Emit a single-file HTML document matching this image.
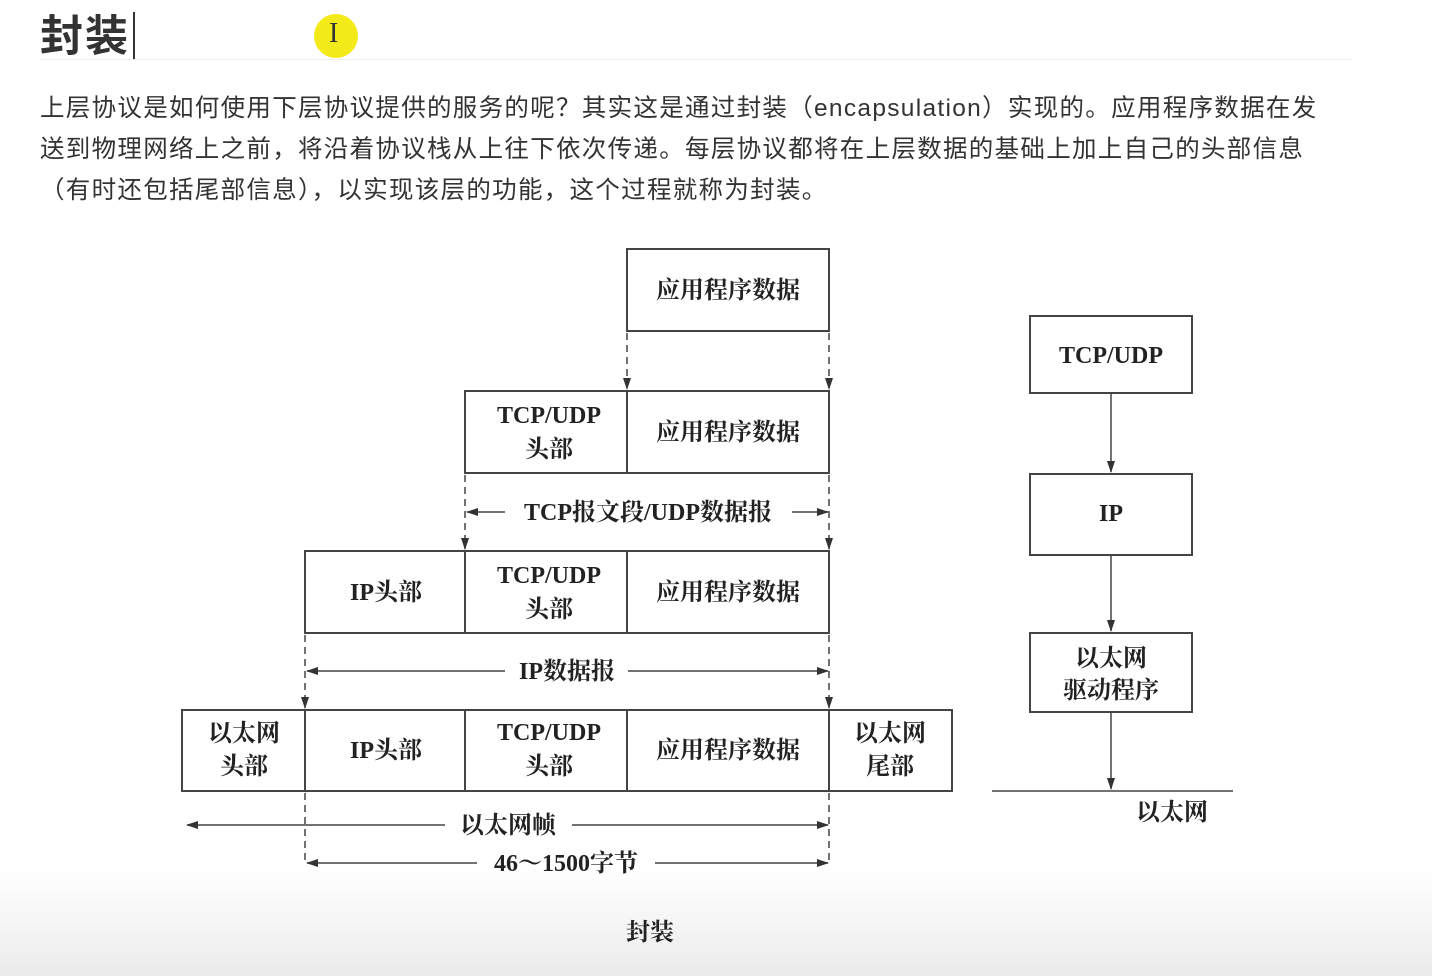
<!DOCTYPE html>
<html><head><meta charset="utf-8"><style>
body{margin:0;width:1432px;height:976px;overflow:hidden;background:linear-gradient(#fff 0,#fff 870px,#ebebeb 976px);font-family:"Liberation Sans","Noto Sans CJK SC",sans-serif;position:relative}
.t{position:absolute;left:40px;top:11px;font-size:43px;font-weight:bold;color:#333;letter-spacing:2px;line-height:52px}
.cur{position:absolute;left:133px;top:12px;width:2px;height:48px;background:#333}
.hl{position:absolute;left:314px;top:14px;width:44px;height:44px;border-radius:50%;background:#f3ea1a}
.hl span{position:absolute;left:15px;top:4px;font-size:28px;color:#333;font-family:"Liberation Serif",serif}
.rule{position:absolute;left:40px;top:59px;width:1312px;height:1px;background:#eee}
.p{position:absolute;left:40px;top:88px;font-size:24.5px;line-height:41px;color:#333;white-space:nowrap;letter-spacing:1.3px}
svg{position:absolute;left:0;top:0}
svg text{font-family:"Liberation Serif","Noto Serif CJK SC",serif;font-size:24px;fill:#222;text-anchor:middle;font-weight:bold}
</style></head><body>
<div class="t">封装</div><div class="cur"></div>
<div class="hl"><span>I</span></div>
<div class="rule"></div>
<div class="p">上层协议是如何使用下层协议提供的服务的呢？其实这是通过封装（encapsulation）实现的。应用程序数据在发<br>送到物理网络上之前，将沿着协议栈从上往下依次传递。每层协议都将在上层数据的基础上加上自己的头部信息<br>（有时还包括尾部信息），以实现该层的功能，这个过程就称为封装。</div>
<svg width="1432" height="976">
<defs><marker id="a" markerWidth="12" markerHeight="8" refX="11" refY="4" orient="auto" markerUnits="userSpaceOnUse"><path d="M0,0L12,4L0,8z" fill="#333"/></marker></defs>
<g fill="none" stroke="#444" stroke-width="2">
<rect x="627" y="249" width="202" height="82"/>
<rect x="465" y="391" width="364" height="82"/><line x1="627" y1="391" x2="627" y2="473"/>
<rect x="305" y="551" width="524" height="82"/><line x1="465" y1="551" x2="465" y2="633"/><line x1="627" y1="551" x2="627" y2="633"/>
<rect x="182" y="710" width="770" height="81"/>
<line x1="305" y1="710" x2="305" y2="791"/><line x1="465" y1="710" x2="465" y2="791"/><line x1="627" y1="710" x2="627" y2="791"/><line x1="829" y1="710" x2="829" y2="791"/>
</g>
<g stroke="#444" stroke-width="1.5" stroke-dasharray="7,5" marker-end="url(#a)">
<line x1="627" y1="333" x2="627" y2="389"/><line x1="829" y1="333" x2="829" y2="389"/>
<line x1="465" y1="475" x2="465" y2="549"/><line x1="829" y1="475" x2="829" y2="549"/>
<line x1="305" y1="635" x2="305" y2="708"/><line x1="829" y1="635" x2="829" y2="708"/>
</g>
<g stroke="#444" stroke-width="1.5" stroke-dasharray="7,5">
<line x1="305" y1="793" x2="305" y2="864"/><line x1="829" y1="793" x2="829" y2="864"/>
</g>
<g stroke="#444" stroke-width="1.5" marker-end="url(#a)">
<line x1="505" y1="512" x2="467" y2="512"/><line x1="792" y1="512" x2="828" y2="512"/>
<line x1="505" y1="671" x2="307" y2="671"/><line x1="628" y1="671" x2="828" y2="671"/>
<line x1="445" y1="825" x2="187" y2="825"/><line x1="572" y1="825" x2="828" y2="825"/>
<line x1="477" y1="863" x2="307" y2="863"/><line x1="655" y1="863" x2="828" y2="863"/>
<line x1="1111" y1="393" x2="1111" y2="472"/><line x1="1111" y1="555" x2="1111" y2="631"/><line x1="1111" y1="712" x2="1111" y2="789"/>
</g>
<g fill="none" stroke="#444" stroke-width="2">
<rect x="1030" y="316" width="162" height="77"/><rect x="1030" y="474" width="162" height="81"/><rect x="1030" y="633" width="162" height="79"/>
<line x1="992" y1="791" x2="1233" y2="791" stroke-width="1.5"/>
</g>
<text x="728" y="298">应用程序数据</text>
<text x="549" y="423">TCP/UDP</text><text x="549" y="457">头部</text><text x="728" y="440">应用程序数据</text>
<text x="648" y="520">TCP报文段/UDP数据报</text>
<text x="386" y="600">IP头部</text><text x="549" y="583">TCP/UDP</text><text x="549" y="617">头部</text><text x="728" y="600">应用程序数据</text>
<text x="567" y="679">IP数据报</text>
<text x="244" y="741">以太网</text><text x="244" y="774">头部</text><text x="386" y="758">IP头部</text>
<text x="549" y="740">TCP/UDP</text><text x="549" y="774">头部</text><text x="728" y="758">应用程序数据</text>
<text x="890" y="741">以太网</text><text x="890" y="774">尾部</text>
<text x="508" y="833">以太网帧</text>
<text x="566" y="871">46～1500字节</text>
<text x="1111" y="363">TCP/UDP</text><text x="1111" y="521">IP</text>
<text x="1111" y="666">以太网</text><text x="1111" y="698">驱动程序</text>
<text x="1172" y="820">以太网</text>
<text x="650" y="940">封装</text>
</svg>
</body></html>
